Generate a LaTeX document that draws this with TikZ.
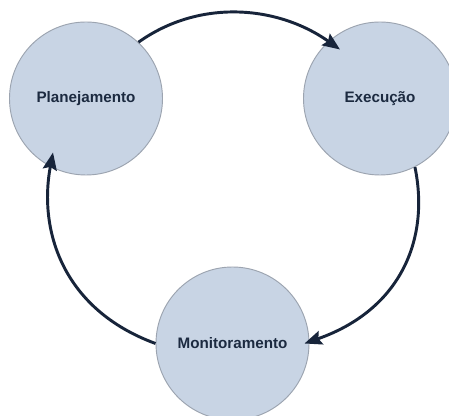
\documentclass[tikz,border=0pt]{standalone}
\usepackage{fontspec}
\setmainfont{Liberation Sans}
\usetikzlibrary{arrows.meta,calc}
\definecolor{circfill}{HTML}{C8D4E4}
\definecolor{circline}{HTML}{9CA4B0}
\definecolor{arrcol}{HTML}{17243A}
\definecolor{txtcol}{HTML}{1C2A40}
\begin{document}
\begin{tikzpicture}[x=0.75pt,y=-0.75pt,
  stage/.style={circle,draw=circline,line width=0.7pt,fill=circfill,
    minimum size=114.75pt,inner sep=0pt,text=txtcol,
    font=\fontsize{11.4pt}{13pt}\selectfont\bfseries},
  cyc/.style={draw=arrcol,line width=2.2pt,
    -{Stealth[length=13pt,width=10.5pt,inset=2pt]}}]
\useasboundingbox[fill=white] (0,0) rectangle (449,416);
\node[stage] (P) at (86,98.5) {Planejamento};
\node[stage] (E) at (380,98.5) {Execução};
\node[stage] (M) at (232.5,343.5) {Monitoramento};
\draw[cyc] (P.47) .. controls (199,-1) and (277,5) .. ($(E.center)+(-40,-49)$);
\draw[cyc] (E.-63) .. controls (430,240) and (400,310) .. ($(M.center)+(72,0)$);
\draw[cyc] (M.west) .. controls (64,310) and (38,232) .. ($(P.center)+(-33,54)$);
\end{tikzpicture}
\end{document}
